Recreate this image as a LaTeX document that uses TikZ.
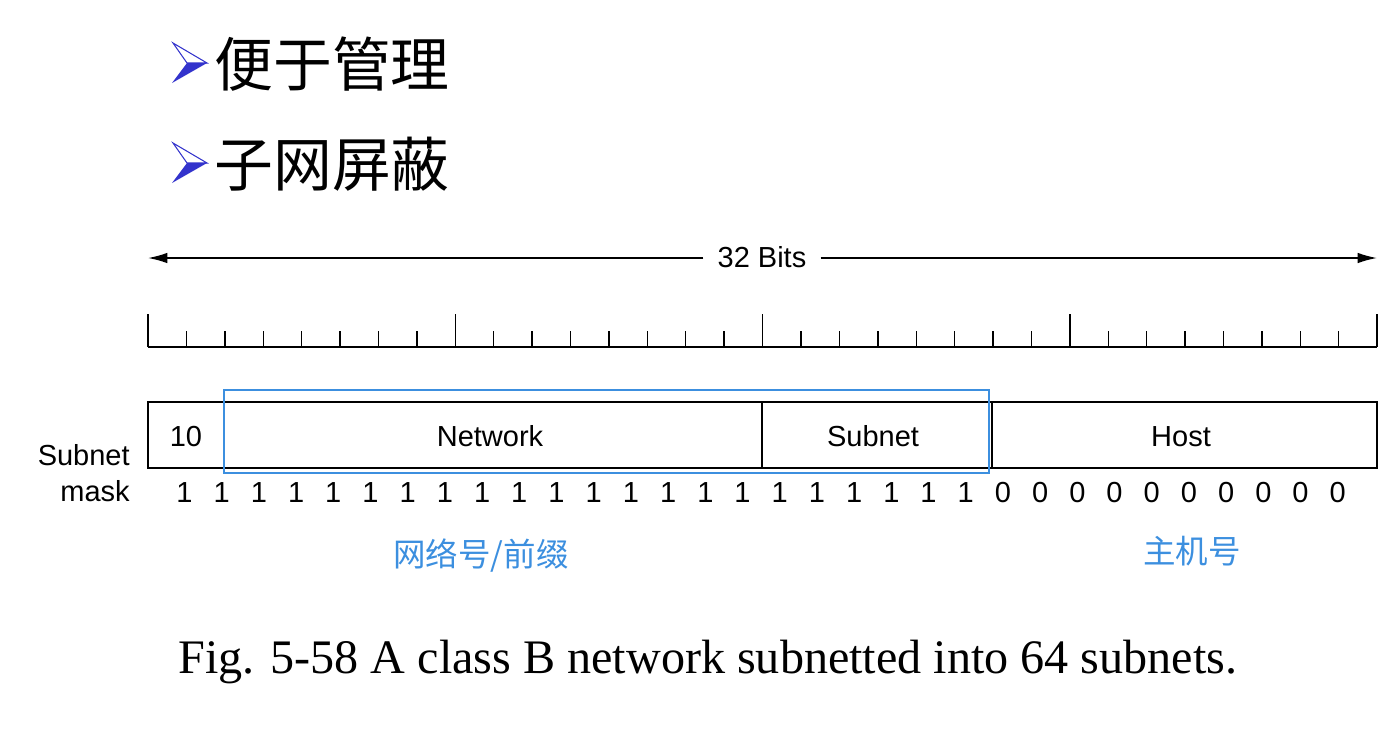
\documentclass[tikz,border=0pt]{standalone}
\usepackage{fontspec}
\setmainfont{Liberation Serif}
\setsansfont{Liberation Sans}
\newfontfamily\cjk{Noto Sans CJK SC}
\usetikzlibrary{arrows.meta}
\definecolor{markblue}{HTML}{3C8FDF}
\definecolor{pointerblue}{HTML}{3333CC}
\begin{document}
\begin{tikzpicture}[x=0.02cm,y=-0.02cm,
  lbl/.style={font=\sffamily\fontsize{16.5}{19}\selectfont,inner sep=0pt},
  title/.style={font=\cjk\fontsize{33.5}{38}\selectfont,inner sep=0pt},
  note/.style={font=\cjk\fontsize{18.5}{21}\selectfont,text=markblue,inner sep=0pt},
  span/.style={-{Latex[length=11pt,width=6pt]},line width=0.9pt},
  pointer/.pic={
    \draw[pointerblue,fill=white,line width=0.6pt] (-14,-20) -- (20,0) -- (0,0) -- cycle;
    \fill[pointerblue] (0,0) -- (20,0) -- (-15,20) -- cycle;
  }]
  \useasboundingbox (0,0) rectangle (1398,731);

  % bullets
  \pic at (187,63) {pointer};
  \pic at (187,163) {pointer};
  \node[title,anchor=base west] (manage) at (214,86) {便于管理};
  \node[title,anchor=base west] (mask) at (214,186) {子网屏蔽};

  % 32 bits arrow
  \coordinate (bitsL) at (148,258);
  \coordinate (bitsR) at (1377,258);
  \node[lbl,anchor=base,inner xsep=8pt] (bits) at (762,267) {32 Bits};
  \draw[span] (bits.west|-bitsL) -- (bitsL);
  \draw[span] (bits.east|-bitsR) -- (bitsR);

  % ruler
  \draw[line width=0.8pt] (148,347) -- (1377,347);
  \foreach \i in {0,...,32}{
    \pgfmathsetmacro{\top}{mod(\i,8)==0 ? 314 : 331}
    \draw[line width=0.8pt] ({148+\i*38.41},347) -- ({148+\i*38.41},\top);
  }

  % fields
  \draw[line width=0.8pt] (148,402) rectangle (1377,468);
  \draw[line width=0.8pt] (224,402) -- (224,468);
  \draw[line width=0.6pt] (762,402) -- (762,468);
  \draw[line width=0.8pt] (992,402) -- (992,468);
  \node[lbl,anchor=base] (cls) at (186,446) {10};
  \node[lbl,anchor=base] (net) at (490,446) {Network};
  \node[lbl,anchor=base] (sub) at (873,446) {Subnet};
  \node[lbl,anchor=base] (host) at (1181,446) {Host};
  \draw[markblue,line width=1.4pt] (224,390) rectangle (989,473);

  % mask bits
  \node[lbl,anchor=base east] (maskA) at (130,465) {Subnet};
  \node[lbl,anchor=base east] (maskB) at (130,501) {mask};
  \foreach \i in {0,...,31}{
    \pgfmathtruncatemacro{\b}{\i<22 ? 1 : 0}
    \node[lbl,anchor=base] (m\i) at ({184.5+\i*37.2},502) {\b};
  }

  % notes
  \node[note] (prefix) at (481,556) {网络号/前缀};
  \node[note] (hostno) at (1192,551) {主机号};

  \node[anchor=base west,inner sep=0pt,font=\fontsize{27.4}{32}\selectfont] (cap) at (178,673)
    {Fig. 5-58 A class B network subnetted into 64 subnets.};
\end{tikzpicture}
\end{document}
